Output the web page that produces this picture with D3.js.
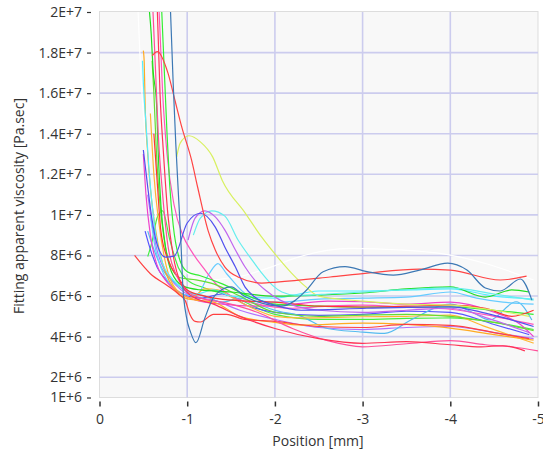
<!DOCTYPE html>
<html><head><meta charset="utf-8">
<script src="https://cdn.jsdelivr.net/npm/d3@7"></script>
<style>
body{margin:0;background:#fff;}
text{font-family:"Open Sans","Noto Sans",sans-serif;}
</style>
</head><body>
<svg id="chart" width="543" height="456"></svg>
<script>
// ---- axis data ----
const xTickValues = [0, -1, -2, -3, -4, -5];
const xTickLabels = ["0", "-1", "-2", "-3", "-4", "-5"];
const yTickValues = [1e6, 2e6, 4e6, 6e6, 8e6, 1e7, 1.2e7, 1.4e7, 1.6e7, 1.8e7, 2e7];
const yTickLabels = ["1E+6", "2E+6", "4E+6", "6E+6", "8E+6", "1E+7", "1.2E+7", "1.4E+7", "1.6E+7", "1.8E+7", "2E+7"];
const xTitle = "Position [mm]";
const yTitle = "Fitting apparent viscosity [Pa.sec]";

// ---- series data: [position mm, viscosity Pa.sec] ----
const sWhite = [[-0.44,20e6],[-0.47,17e6],[-0.52,14e6],[-0.6,11e6],[-0.75,8.5e6],[-0.95,7.3e6],[-1.2,6.8e6],[-1.58,6.95e6],[-1.97,7.45e6],[-2.23,7.87e6],[-2.86,8.35e6],[-3.43,8.27e6],[-4.0,8.02e6],[-4.38,7.63e6],[-4.95,6.79e6]];
const sSteel = [[-0.81,20e6],[-0.84,16.5e6],[-0.87,13.5e6],[-0.9,11e6],[-0.93,8.5e6],[-0.95,6.5e6],[-0.99,5.0e6],[-1.04,4.2e6],[-1.1,3.7e6],[-1.2,4.9e6],[-1.31,6.0e6],[-1.5,6.45e6],[-1.65,6.0e6],[-1.85,5.65e6],[-2.07,5.5e6],[-2.22,5.75e6],[-2.35,6.25e6],[-2.55,7.2e6],[-2.8,7.45e6],[-3.05,7.2e6],[-3.35,7.03e6],[-3.65,7.28e6],[-3.97,7.62e6],[-4.19,7.28e6],[-4.4,6.4e6],[-4.57,6.25e6],[-4.8,6.84e6],[-4.93,5.8e6]];
const sRedPeak = [[-0.6,17.85e6],[-0.66,18.05e6],[-0.78,17.0e6],[-0.86,15.65e6],[-0.94,14.3e6],[-1.05,12.7e6],[-1.12,11.35e6],[-1.24,9.2e6],[-1.32,8.27e6],[-1.43,7.43e6],[-1.58,6.94e6],[-1.85,6.64e6],[-2.02,6.69e6],[-2.63,6.94e6],[-3.05,7.13e6],[-3.65,7.33e6],[-4.0,7.28e6],[-4.57,6.79e6],[-4.87,6.98e6]];
const sYellowGreen = [[-0.88,12.86e6],[-0.92,13.54e6],[-1.02,13.9e6],[-1.15,13.6e6],[-1.29,12.86e6],[-1.4,11.7e6],[-1.66,10.1e6],[-1.85,8.9e6],[-2.04,7.87e6],[-2.19,7.13e6],[-2.34,6.5e6],[-2.5,6.0e6],[-3.0,5.75e6],[-3.5,5.6e6],[-4.0,5.55e6],[-4.5,5.3e6],[-4.9,5.0e6]];
const sCyanBump = [[-1.07,9.0e6],[-1.15,9.84e6],[-1.28,10.2e6],[-1.43,9.94e6],[-1.58,8.76e6],[-1.74,7.77e6],[-1.85,7.13e6],[-1.97,6.54e6],[-2.08,6.2e6],[-2.23,6.05e6],[-2.4,6.05e6],[-2.6,6.1e6],[-3.0,6.2e6],[-3.43,6.3e6],[-4.0,6.4e6],[-4.5,6.1e6],[-4.95,5.8e6]];
const sVioletBump = [[-1.01,8.76e6],[-1.09,9.84e6],[-1.2,10.2e6],[-1.32,9.9e6],[-1.43,9.25e6],[-1.55,8.27e6],[-1.66,7.43e6],[-1.77,6.79e6],[-1.89,6.3e6],[-2.06,5.8e6],[-2.5,5.3e6],[-3.0,5.2e6],[-3.5,5.3e6],[-4.0,5.4e6],[-4.5,4.8e6],[-4.9,4.2e6]];
const sBlueLoop = [[-0.5,13.2e6],[-0.55,11.37e6],[-0.6,9.74e6],[-0.66,8.51e6],[-0.75,7.92e6],[-0.85,7.97e6],[-1.0,9.6e6],[-1.15,10.08e6],[-1.32,9.4e6],[-1.43,8.41e6],[-1.55,7.43e6],[-1.66,6.44e6],[-1.77,5.95e6],[-2.0,5.55e6],[-2.3,5.3e6],[-3.05,5.4e6],[-4.0,5.47e6],[-4.4,5.16e6],[-4.95,4.5e6]];
const sRedEarly = [[-0.4,8.0e6],[-0.58,7.1e6],[-0.78,6.5e6],[-0.9,6.1e6],[-0.98,5.75e6],[-1.03,5.1e6],[-1.09,4.75e6],[-1.15,4.72e6],[-1.3,5.1e6],[-1.45,5.1e6],[-1.65,4.85e6],[-2.0,4.75e6],[-2.5,4.5e6],[-3.0,4.45e6],[-3.5,4.6e6],[-4.0,4.55e6],[-4.5,4.2e6],[-4.9,3.9e6]];
const sPinkLow = [[-0.61,20e6],[-0.64,17e6],[-0.67,14e6],[-0.72,11e6],[-0.78,8.5e6],[-0.88,7.0e6],[-0.98,6.3e6],[-1.15,5.9e6],[-1.4,5.7e6],[-1.8,5.2e6],[-2.2,4.4e6],[-2.6,3.8e6],[-3.0,3.5e6],[-3.5,3.65e6],[-4.0,3.8e6],[-4.4,3.6e6],[-4.7,3.5e6],[-5.0,3.3e6]];
const sRedLow = [[-0.66,20e6],[-0.69,16e6],[-0.73,13e6],[-0.78,10e6],[-0.84,8e6],[-0.93,6.6e6],[-1.05,6.0e6],[-1.3,5.6e6],[-1.6,5.0e6],[-2.0,4.4e6],[-2.5,3.9e6],[-3.0,3.67e6],[-3.5,3.75e6],[-4.0,3.6e6],[-4.35,3.5e6],[-4.6,3.55e6],[-4.85,3.3e6]];
const sGreenHigh = [[-0.57,20e6],[-0.59,18.9e6],[-0.61,17.2e6],[-0.65,15.5e6],[-0.67,13e6],[-0.7,10.5e6],[-0.75,8.5e6],[-0.82,7.2e6],[-0.95,6.5e6],[-1.15,6.3e6],[-1.5,6.2e6],[-2.0,6.0e6],[-2.5,6.05e6],[-3.0,6.15e6],[-3.5,6.35e6],[-4.0,6.45e6],[-4.4,5.95e6],[-4.7,6.3e6],[-4.9,6.2e6]];
const sGreenMid = [[-0.71,20e6],[-0.74,17e6],[-0.77,14e6],[-0.8,11.5e6],[-0.84,9.5e6],[-0.9,8.0e6],[-1.0,7.2e6],[-1.15,7.0e6],[-1.4,6.6e6],[-1.7,6.0e6],[-2.0,5.6e6],[-2.5,5.5e6],[-3.0,5.45e6],[-3.5,5.45e6],[-4.0,5.47e6],[-4.5,5.3e6],[-4.95,5.1e6]];
const sGreenLate = [[-0.6,17.6e6],[-0.62,16e6],[-0.65,13e6],[-0.68,11e6],[-0.73,9e6],[-0.8,7.6e6],[-0.92,6.9e6],[-1.1,6.8e6],[-1.3,6.6e6],[-1.6,6.0e6],[-2.0,5.2e6],[-2.5,5.0e6],[-3.0,5.06e6],[-3.5,5.1e6],[-4.0,5.0e6],[-4.5,4.7e6],[-4.95,4.3e6]];
const sGreenShort = [[-0.55,7.95e6],[-0.6,8.7e6],[-0.66,9.9e6],[-0.72,10.2e6],[-0.8,8.8e6],[-0.9,7.4e6],[-1.0,6.8e6],[-1.2,6.4e6],[-1.5,6.0e6],[-2.0,5.1e6],[-2.5,4.85e6],[-3.0,4.85e6],[-3.5,4.9e6],[-4.0,4.92e6],[-4.5,4.7e6],[-4.95,4.35e6]];
const sOrange = [[-0.5,18.1e6],[-0.51,17.5e6],[-0.52,15.5e6],[-0.55,13e6],[-0.6,10.5e6],[-0.67,8.5e6],[-0.75,7.2e6],[-0.86,6.3e6],[-0.98,5.9e6],[-1.1,5.8e6],[-1.3,5.7e6],[-1.6,5.0e6],[-2.0,4.7e6],[-2.3,4.57e6],[-3.0,4.67e6],[-3.5,4.6e6],[-4.0,4.42e6],[-4.5,4.1e6],[-4.95,3.83e6]];
const sOrangeBump = [[-0.58,15e6],[-0.62,12e6],[-0.68,9.5e6],[-0.76,7.5e6],[-0.88,6.3e6],[-1.05,5.9e6],[-1.2,6.35e6],[-1.35,6.3e6],[-1.5,5.95e6],[-1.8,5.3e6],[-2.0,5.0e6],[-2.3,4.92e6],[-3.0,4.98e6],[-3.5,5.0e6],[-4.0,5.06e6],[-4.4,4.49e6],[-4.95,3.68e6]];
const sCyanSteep = [[-0.49,17.6e6],[-0.5,16.5e6],[-0.53,14.5e6],[-0.56,12.5e6],[-0.6,10.5e6],[-0.65,8.8e6],[-0.72,7.6e6],[-0.82,6.9e6],[-0.95,6.4e6],[-1.1,6.1e6],[-1.3,6.3e6],[-1.5,6.0e6],[-2.0,5.9e6],[-2.5,6.25e6],[-3.0,6.25e6],[-3.5,6.3e6],[-4.0,6.35e6],[-4.5,6.0e6],[-4.95,5.85e6]];
const sLightBlueDip = [[-0.55,9.2e6],[-0.62,8.3e6],[-0.72,7.3e6],[-0.85,6.7e6],[-1.0,6.2e6],[-1.2,6.0e6],[-1.4,5.7e6],[-1.6,5.9e6],[-1.8,5.6e6],[-2.0,5.3e6],[-2.3,5.0e6],[-2.6,4.4e6],[-2.95,4.24e6],[-3.25,4.16e6],[-3.55,4.82e6],[-4.0,5.6e6],[-4.25,5.2e6],[-4.45,4.82e6],[-4.75,5.72e6],[-4.93,4.82e6]];
const sLightBlue = [[-0.58,10e6],[-0.63,8.5e6],[-0.7,7.4e6],[-0.8,6.6e6],[-0.95,6.1e6],[-1.1,6.0e6],[-1.25,7.1e6],[-1.35,7.6e6],[-1.45,7.1e6],[-1.7,6.0e6],[-2.0,5.7e6],[-2.5,5.85e6],[-3.0,5.9e6],[-3.5,5.95e6],[-4.0,6.2e6],[-4.3,5.9e6],[-4.6,5.7e6],[-4.95,5.6e6]];
const sMagenta = [[-0.5,13e6],[-0.53,11e6],[-0.58,9e6],[-0.65,7.6e6],[-0.75,6.8e6],[-0.9,6.2e6],[-1.1,5.8e6],[-1.4,5.6e6],[-1.8,5.5e6],[-2.2,5.6e6],[-2.6,5.75e6],[-3.0,5.72e6],[-3.5,5.6e6],[-4.0,5.7e6],[-4.5,5.2e6],[-4.8,4.6e6],[-4.95,4.0e6]];
const sPinkMid = [[-0.68,20e6],[-0.72,16e6],[-0.77,13e6],[-0.85,10.5e6],[-0.95,9.0e6],[-1.05,8.2e6],[-1.2,7.3e6],[-1.35,6.5e6],[-1.5,6.0e6],[-1.8,5.6e6],[-2.2,5.4e6],[-2.6,5.5e6],[-3.0,5.55e6],[-3.5,5.45e6],[-4.0,5.35e6],[-4.5,5.0e6],[-4.95,4.6e6]];
const sVioletLow = [[-0.55,11e6],[-0.6,9.5e6],[-0.66,8.2e6],[-0.75,7.2e6],[-0.88,6.5e6],[-1.05,6.0e6],[-1.3,5.8e6],[-1.6,5.3e6],[-2.0,4.85e6],[-2.5,4.45e6],[-3.0,4.35e6],[-3.5,4.45e6],[-4.0,4.5e6],[-4.5,4.2e6],[-4.95,3.9e6]];
const sBlueMid = [[-0.52,9.2e6],[-0.58,8.3e6],[-0.66,7.4e6],[-0.78,6.7e6],[-0.95,6.1e6],[-1.15,5.9e6],[-1.4,6.1e6],[-1.7,5.5e6],[-2.0,5.2e6],[-2.5,5.05e6],[-3.0,5.1e6],[-3.5,5.25e6],[-4.0,5.2e6],[-4.5,4.6e6],[-4.9,4.1e6]];
const sRedMid = [[-0.62,14e6],[-0.66,11.5e6],[-0.7,9.2e6],[-0.78,7.8e6],[-0.9,6.9e6],[-1.0,6.3e6],[-1.2,6.0e6],[-1.5,5.8e6],[-2.0,5.7e6],[-2.5,5.5e6],[-3.0,5.46e6],[-3.5,5.5e6],[-4.0,5.55e6],[-4.4,5.4e6],[-4.7,5.0e6],[-4.95,5.3e6]];

const seriesList = [sWhite, sGreenShort, sVioletLow, sBlueMid, sLightBlueDip, sLightBlue, sMagenta, sPinkMid, sOrange, sOrangeBump, sCyanSteep, sGreenLate, sGreenMid, sGreenHigh, sRedMid, sRedEarly, sPinkLow, sRedLow, sYellowGreen, sCyanBump, sVioletBump, sBlueLoop, sRedPeak, sSteel];
const seriesColors = ["#ffffff", "#44ee44", "#b070ff", "#5555ff", "#55bbf0", "#66ccff", "#ee44cc", "#ff55bb", "#ffaa22", "#ffb533", "#55eeff", "#66dd33", "#33ee33", "#22dd22", "#ff3333", "#ff4040", "#ff4f9a", "#ff3355", "#d8f060", "#66eeee", "#c066ee", "#5050ee", "#ff4444", "#3c78b4"];

// ---- layout ----
const svg = d3.select("#chart");
const L = 99.5, R = 538, T = 12, B = 397.5;
const x = d3.scaleLinear().domain([0, -5]).range([L, R]);
const y = d3.scaleLinear().domain([1e6, 2e7]).range([B, T]);

svg.append("rect").attr("x", L).attr("y", T - 0.5).attr("width", R - L).attr("height", B - T + 0.5)
  .attr("fill", "#f8f8f8").attr("stroke", "#dddddd").attr("stroke-width", 1);

const grid = svg.append("g");
grid.selectAll("line.h").data(yTickValues.filter(v => v > 1e6 && v < 2e7)).enter().append("line")
  .attr("x1", L).attr("x2", R).attr("y1", d => y(d)).attr("y2", d => y(d))
  .attr("stroke", "#ccccee").attr("stroke-width", 1.6);
grid.selectAll("line.v").data(xTickValues.filter(v => v < 0 && v > -5)).enter().append("line")
  .attr("x1", d => x(d)).attr("x2", d => x(d)).attr("y1", T).attr("y2", B)
  .attr("stroke", "#ccccee").attr("stroke-width", 1.6);

svg.append("clipPath").attr("id", "clip").append("rect")
  .attr("x", L).attr("y", T).attr("width", R - L).attr("height", B - T);

const line = d3.line().x(d => x(d[0])).y(d => y(d[1])).curve(d3.curveMonotoneX);
const lines = svg.append("g").attr("clip-path", "url(#clip)");
seriesList.forEach((s, i) => {
  lines.append("path").attr("d", line(s)).attr("fill", "none")
    .attr("stroke", seriesColors[i]).attr("stroke-width", 1.2);
});

// axes
const yAxis = d3.axisLeft(y).tickValues(yTickValues)
  .tickFormat((d, i) => yTickLabels[i]).tickSize(4).tickPadding(5).tickSizeOuter(0);
const gy = svg.append("g").attr("transform", `translate(91,0)`).call(yAxis);
gy.select(".domain").remove();
gy.selectAll("line").attr("stroke", "#333").attr("stroke-width", 1.2);
gy.selectAll("text").attr("fill", "#333").style("font-size", "14px").attr("font-family", null);

const xAxis = d3.axisBottom(x).tickValues(xTickValues)
  .tickFormat((d, i) => xTickLabels[i]).tickSize(5).tickPadding(8).tickSizeOuter(0);
const gx = svg.append("g").attr("transform", `translate(0,401.5)`).call(xAxis);
gx.select(".domain").remove();
gx.selectAll("line").attr("stroke", "#333").attr("stroke-width", 1.5);
gx.selectAll("text").attr("fill", "#333").style("font-size", "14px").attr("font-family", null);

svg.append("text").attr("x", 318).attr("y", 446).attr("text-anchor", "middle")
  .attr("fill", "#333").style("font-size", "14px").text(xTitle);
svg.append("text").attr("transform", "translate(24,206) rotate(-90)").attr("text-anchor", "middle")
  .attr("fill", "#333").style("font-size", "14px").text(yTitle);
</script>
</body></html>
